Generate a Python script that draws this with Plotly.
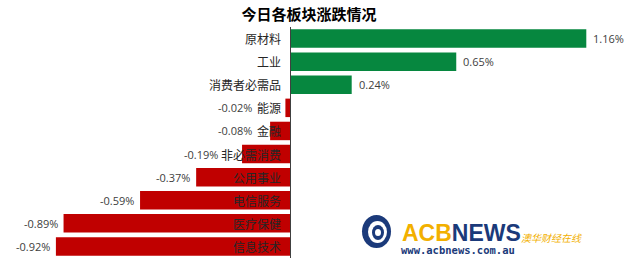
import plotly.graph_objects as go

categories = ["原材料", "工业", "消费者必需品", "能源", "金融", "非必需消费", "公用事业", "电信服务", "医疗保健", "信息技术"]
values = [1.16, 0.65, 0.24, -0.02, -0.08, -0.19, -0.37, -0.59, -0.89, -0.92]
value_labels = ["1.16%", "0.65%", "0.24%", "-0.02%", "-0.08%", "-0.19%", "-0.37%", "-0.59%", "-0.89%", "-0.92%"]
title_text = "今日各板块涨跌情况"

W, H = 624, 265
PX = 255.0          # pixels per 1 %
X0 = 290.5          # pixel position of zero
xmin = -X0 / PX
xmax = (W - X0) / PX
T, B = 27, 7

GREEN = "#06873F"
RED = "#C00000"
colors = [GREEN if v >= 0 else RED for v in values]

fig = go.Figure()
fig.add_trace(go.Bar(
    y=categories, x=values, orientation="h",
    marker=dict(color=colors, line=dict(width=0)),
    hoverinfo="skip",
))

CJK = "Noto Sans CJK SC"
CH = 11.4  # approx. px width per CJK glyph at 12px

annotations = []
for cat, v, lab in zip(categories, values, value_labels):
    annotations.append(dict(
        x=0, y=cat, xref="x", yref="y", text=cat, showarrow=False,
        xanchor="right", yanchor="middle", xshift=-8,
        font=dict(family=CJK, size=12, color="#262626"),
    ))
    if v >= 0:
        annotations.append(dict(
            x=v, y=cat, xref="x", yref="y", text=lab, showarrow=False,
            xanchor="left", yanchor="middle", xshift=5,
            font=dict(family="Open Sans", size=11, color="#404040"),
        ))
    else:
        label_left = -(len(cat) * CH + 10) / PX
        xa = min(v, label_left)
        annotations.append(dict(
            x=xa, y=cat, xref="x", yref="y", text=lab, showarrow=False,
            xanchor="right", yanchor="middle", xshift=-4,
            font=dict(family="Open Sans", size=11, color="#404040"),
        ))

def py(p):  # pixel y -> paper y
    return (H - B - p) / (H - T - B)

annotations += [
    dict(x=400 / W, y=py(233), xref="paper", yref="paper", showarrow=False,
         xanchor="left", yanchor="middle",
         text="<b><span style='color:#F2B000'>ACB</span><span style='color:#1B3A7A'>NEWS</span></b>",
         font=dict(family="Liberation Sans", size=23)),
    dict(x=519 / W, y=py(237), xref="paper", yref="paper", showarrow=False,
         xanchor="left", yanchor="middle", text="<i>澳华财经在线</i>",
         font=dict(family=CJK, size=10, color="#F2B000")),
    dict(x=399 / W, y=py(250), xref="paper", yref="paper", showarrow=False,
         xanchor="left", yanchor="middle", text="<b>www.acbnews.com.au</b>",
         font=dict(family="DejaVu Sans Mono", size=10.5, color="#1B3A7A")),
]

shapes = [
    dict(type="line", xref="x", yref="paper", x0=0, x1=0, y0=0, y1=1,
         line=dict(color="#404040", width=1)),
    dict(type="circle", xref="paper", yref="paper",
         x0=362 / W, x1=391 / W, y0=py(248), y1=py(215),
         fillcolor="#1B3A7A", line=dict(width=0)),
    dict(type="circle", xref="paper", yref="paper",
         x0=368 / W, x1=387 / W, y0=py(243), y1=py(221),
         fillcolor="white", line=dict(width=0)),
    dict(type="circle", xref="paper", yref="paper",
         x0=372 / W, x1=384 / W, y0=py(240), y1=py(225),
         fillcolor="#1B3A7A", line=dict(width=0)),
    dict(type="circle", xref="paper", yref="paper",
         x0=375 / W, x1=381 / W, y0=py(236), y1=py(229),
         fillcolor="white", line=dict(width=0)),
]

fig.update_layout(
    width=W, height=H,
    margin=dict(l=0, r=0, t=T, b=B, pad=0),
    paper_bgcolor="white", plot_bgcolor="white",
    showlegend=False,
    bargap=0.2,
    title=dict(text="<b>" + title_text + "</b>", x=309 / W, xanchor="center",
               y=1 - 15 / H, yanchor="middle", yref="container",
               font=dict(family=CJK, size=15, color="#000000")),
    xaxis=dict(range=[xmin, xmax], visible=False, fixedrange=True),
    yaxis=dict(autorange="reversed", visible=False, fixedrange=True),
    annotations=annotations,
    shapes=shapes,
)

fig.write_html("out.html")
